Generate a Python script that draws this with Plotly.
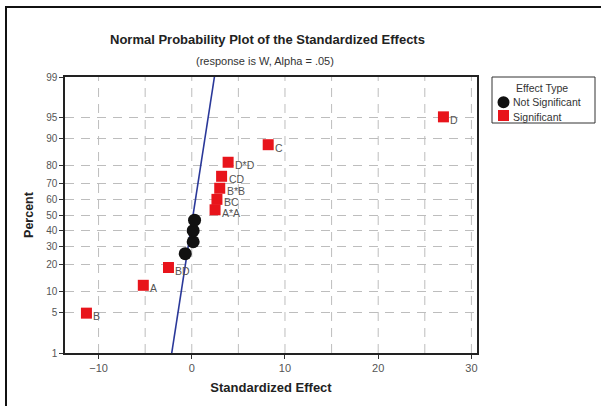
import plotly.graph_objects as go
from statistics import NormalDist

nd = NormalDist()

# --- data ---
sig_labels = ["B", "A", "BD", "A*A", "BC", "B*B", "CD", "D*D", "C", "D"]
sig_effect = [-11.3, -5.2, -2.5, 2.5, 2.7, 3.0, 3.2, 3.9, 8.2, 27.0]
sig_percent = [4.9, 11.8, 18.8, 53.5, 60.4, 67.4, 74.3, 81.3, 88.2, 95.1]

ns_effect = [-0.7, 0.15, 0.15, 0.3]
ns_percent = [25.7, 32.6, 39.6, 46.5]

line_effect = [-2.15, 2.43]
line_percent = [1, 99]

y_ticks = [1, 5, 10, 20, 30, 40, 50, 60, 70, 80, 90, 95, 99]
x_ticks = [-10, 0, 10, 20, 30]
x_grid = [-10, -5, 0, 5, 10, 15, 20, 25, 30]

title_text = "Normal Probability Plot of the Standardized Effects"
subtitle_text = "(response is W, Alpha = .05)"
legend_title = "Effect Type"
legend_names = ["Not Significant", "Significant"]


def z(p):
    return nd.inv_cdf(p / 100.0)


W, H = 601, 406
L, R, T, B = 65, 124, 77, 53
PW, PH = W - L - R, H - T - B


def px(xp):
    return (xp - L) / PW


def py(yp):
    return (H - B - yp) / PH


FONT = "Liberation Sans"
RED = "#e8141b"
BLK = "#111111"
GRID = "#bdbdbd"

fig = go.Figure()

fig.add_trace(go.Scatter(
    x=line_effect, y=[z(p) for p in line_percent], mode="lines",
    line=dict(color="#2a3899", width=1.6), showlegend=False, hoverinfo="skip"))

fig.add_trace(go.Scatter(
    x=ns_effect, y=[z(p) for p in ns_percent], mode="markers",
    marker=dict(symbol="circle", size=13, color=BLK),
    name=legend_names[0], showlegend=False))

fig.add_trace(go.Scatter(
    x=sig_effect, y=[z(p) for p in sig_percent], mode="markers",
    marker=dict(symbol="square", size=11, color=RED),
    name=legend_names[1], showlegend=False))

for lab, xv, pv in zip(sig_labels, sig_effect, sig_percent):
    fig.add_annotation(x=xv, y=z(pv), text=lab, showarrow=False,
                       xanchor="left", yanchor="middle", xshift=5, yshift=-3,
                       font=dict(family=FONT, size=10.5, color="#555555"))

# vertical dashed gridlines every 5
for g in x_grid:
    fig.add_shape(type="line", xref="x", yref="paper", x0=g, x1=g, y0=0, y1=1,
                  line=dict(color=GRID, width=1, dash="9px,7px"), layer="below")

# outer frame
fig.add_shape(type="rect", xref="paper", yref="paper",
              x0=px(6), y0=py(H + 20), x1=px(W + 20), y1=py(7),
              line=dict(color=BLK, width=2))

# titles
fig.add_annotation(xref="paper", yref="paper", x=px(267), y=py(39),
                   text="<b>" + title_text + "</b>", showarrow=False,
                   xanchor="center", yanchor="middle",
                   font=dict(family=FONT, size=13, color="#222222"))
fig.add_annotation(xref="paper", yref="paper", x=px(265), y=py(61),
                   text=subtitle_text, showarrow=False,
                   xanchor="center", yanchor="middle",
                   font=dict(family=FONT, size=11, color="#333333"))

# custom legend
fig.add_shape(type="rect", xref="paper", yref="paper",
              x0=px(492), x1=px(595), y0=py(123), y1=py(77),
              line=dict(color="#333333", width=1), fillcolor="white")
fig.add_annotation(xref="paper", yref="paper", x=px(542), y=py(88),
                   text=legend_title, showarrow=False, xanchor="center",
                   yanchor="middle", font=dict(family=FONT, size=10.5, color="#333"))
fig.add_shape(type="circle", xref="paper", yref="paper",
              x0=px(497.5), x1=px(509.5), y0=py(108.3), y1=py(96.3),
              line=dict(color=BLK, width=0), fillcolor=BLK)
fig.add_shape(type="rect", xref="paper", yref="paper",
              x0=px(498), x1=px(509), y0=py(121), y1=py(110),
              line=dict(color=RED, width=0), fillcolor=RED)
for name, yy in zip(legend_names, [102.5, 116.5]):
    fig.add_annotation(xref="paper", yref="paper", x=px(511), y=py(yy),
                       text=name, showarrow=False, xanchor="left",
                       yanchor="middle", font=dict(family=FONT, size=10.5, color="#333"))

fig.update_layout(
    width=W, height=H,
    margin=dict(l=L, r=R, t=T, b=B, autoexpand=False),
    paper_bgcolor="white", plot_bgcolor="white",
    font=dict(family=FONT, color="#333333"),
    showlegend=False,
    xaxis=dict(
        range=[-13.6, 30.6], tickvals=x_ticks, ticks="outside", ticklen=4,
        tickcolor="#333", showgrid=False, zeroline=False, automargin=False,
        showline=True, linecolor="#222", linewidth=1.5, mirror=True,
        tickfont=dict(family=FONT, size=11, color="#555"),
        title=dict(text="<b>Standardized Effect</b>", standoff=10,
                   font=dict(family=FONT, size=13, color="#222"))),
    yaxis=dict(
        range=[z(1), z(99)], tickvals=[z(p) for p in y_ticks],
        ticktext=[str(p) for p in y_ticks], ticks="outside", ticklen=4,
        tickcolor="#333", showgrid=True, gridcolor=GRID, griddash="9px,7px",
        zeroline=False, showline=True, linecolor="#222", linewidth=1.5, mirror=True,
        automargin=False,
        tickfont=dict(family=FONT, size=10, color="#555"),
        title=dict(text="<b>Percent</b>", standoff=10,
                   font=dict(family=FONT, size=12.5, color="#222"))),
)

fig.write_html("out.html",
               config={"displayModeBar": False},
               post_script="document.body.style.margin='0';"
                           "document.body.style.overflow='hidden';")
